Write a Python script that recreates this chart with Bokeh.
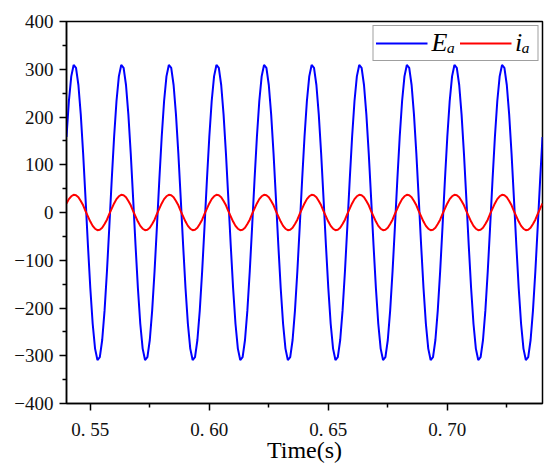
import numpy as np
from bokeh.plotting import figure
from bokeh.models import FixedTicker, Legend, LegendItem, Range1d
from bokeh.embed import file_html
from bokeh.resources import INLINE

# ---- data (1 ms sampling) ----
t_start = 0.540
t_step = 0.001

ea = [
    158, 233, 285, 309, 303, 267, 205, 123, 29, -68, -158, -233, -285, -309, -303, -267, -205, -123, -29, 68,
    158, 233, 285, 309, 303, 267, 205, 123, 29, -68, -158, -233, -285, -309, -303, -267, -205, -123, -29, 68,
    158, 233, 285, 309, 303, 267, 205, 123, 29, -68, -158, -233, -285, -309, -303, -267, -205, -123, -29, 68,
    158, 233, 285, 309, 303, 267, 205, 123, 29, -68, -158, -233, -285, -309, -303, -267, -205, -123, -29, 68,
    158, 233, 285, 309, 303, 267, 205, 123, 29, -68, -158, -233, -285, -309, -303, -267, -205, -123, -29, 68,
    158, 233, 285, 309, 303, 267, 205, 123, 29, -68, -158, -233, -285, -309, -303, -267, -205, -123, -29, 68,
    158, 233, 285, 309, 303, 267, 205, 123, 29, -68, -158, -233, -285, -309, -303, -267, -205, -123, -29, 68,
    158, 233, 285, 309, 303, 267, 205, 123, 29, -68, -158, -233, -285, -309, -303, -267, -205, -123, -29, 68,
    158, 233, 285, 309, 303, 267, 205, 123, 29, -68, -158, -233, -285, -309, -303, -267, -205, -123, -29, 68,
    158, 233, 285, 309, 303, 267, 205, 123, 29, -68, -158, -233, -285, -309, -303, -267, -205, -123, -29, 68,
    158,
]

ia = [
    19, 28, 34, 37, 36, 32, 24, 15, 3, -8, -19, -28, -34, -37, -36, -32, -24, -15, -3, 8,
    19, 28, 34, 37, 36, 32, 24, 15, 3, -8, -19, -28, -34, -37, -36, -32, -24, -15, -3, 8,
    19, 28, 34, 37, 36, 32, 24, 15, 3, -8, -19, -28, -34, -37, -36, -32, -24, -15, -3, 8,
    19, 28, 34, 37, 36, 32, 24, 15, 3, -8, -19, -28, -34, -37, -36, -32, -24, -15, -3, 8,
    19, 28, 34, 37, 36, 32, 24, 15, 3, -8, -19, -28, -34, -37, -36, -32, -24, -15, -3, 8,
    19, 28, 34, 37, 36, 32, 24, 15, 3, -8, -19, -28, -34, -37, -36, -32, -24, -15, -3, 8,
    19, 28, 34, 37, 36, 32, 24, 15, 3, -8, -19, -28, -34, -37, -36, -32, -24, -15, -3, 8,
    19, 28, 34, 37, 36, 32, 24, 15, 3, -8, -19, -28, -34, -37, -36, -32, -24, -15, -3, 8,
    19, 28, 34, 37, 36, 32, 24, 15, 3, -8, -19, -28, -34, -37, -36, -32, -24, -15, -3, 8,
    19, 28, 34, 37, 36, 32, 24, 15, 3, -8, -19, -28, -34, -37, -36, -32, -24, -15, -3, 8,
    19,
]

time = np.round(t_start + t_step * np.arange(len(ea)), 3)

x_tick_values = [0.55, 0.60, 0.65, 0.70]
x_tick_labels = ["0. 55", "0. 60", "0. 65", "0. 70"]
x_minor_values = [0.575, 0.625, 0.675, 0.725]

y_tick_values = [-400, -300, -200, -100, 0, 100, 200, 300, 400]
y_tick_labels = ["\u2212400", "\u2212300", "\u2212200", "\u2212100", "0", "100", "200", "300", "400"]
y_minor_values = [-350, -250, -150, -50, 50, 150, 250, 350]

series_labels = ["E\u2090", "i\u2090"]

SERIF = "Liberation Serif"

# ---- figure ----
p = figure(width=544, height=469, output_backend="svg", toolbar_location=None,
           x_range=Range1d(0.54, 0.74), y_range=Range1d(-400, 400),
           min_border_left=66, min_border_right=2, min_border_top=21, min_border_bottom=66)
p.background_fill_color = "white"
p.border_fill_color = "white"
p.grid.visible = False
p.outline_line_color = "black"
p.outline_line_width = 1.5

r1 = p.line(time, ea, line_color="#0000FF", line_width=2)
r2 = p.line(time, ia, line_color="#FF0000", line_width=2)

xa = p.xaxis[0]
xa.ticker = FixedTicker(ticks=x_tick_values, minor_ticks=x_minor_values)
xa.major_label_overrides = {v: l for v, l in zip(x_tick_values, x_tick_labels)}
xa.axis_label = "Time(s)"
xa.axis_label_text_font = SERIF
xa.axis_label_text_font_style = "normal"
xa.axis_label_text_font_size = "24px"
xa.axis_label_text_color = "black"
xa.axis_label_standoff = -6
xa.major_label_standoff = 8
xa.major_label_text_font = SERIF
xa.major_label_text_font_size = "19px"

ya = p.yaxis[0]
ya.ticker = FixedTicker(ticks=y_tick_values, minor_ticks=y_minor_values)
ya.major_label_overrides = {v: l for v, l in zip(y_tick_values, y_tick_labels)}
ya.major_label_standoff = 6
ya.major_label_text_font = SERIF
ya.major_label_text_font_size = "19px"

for ax in (xa, ya):
    ax.axis_line_width = 1.5
    ax.axis_line_color = "black"
    ax.major_tick_line_color = "black"
    ax.minor_tick_line_color = "black"
    ax.major_tick_line_width = 1.5
    ax.minor_tick_line_width = 1.5
    ax.major_tick_in = 0
    ax.major_tick_out = 7
    ax.minor_tick_in = 0
    ax.minor_tick_out = 4
    ax.major_label_text_color = "#111111"

legend = Legend(items=[LegendItem(label=series_labels[0], renderers=[r1]),
                       LegendItem(label=series_labels[1], renderers=[r2])],
                orientation="horizontal", location="top_right",
                glyph_width=52, glyph_height=22, label_standoff=4, spacing=4,
                padding=2, margin=4, border_line_color="#404040", border_line_width=1.2,
                label_text_font=SERIF, label_text_font_style="italic",
                label_text_font_size="26px", label_height=22, label_text_color="black")
p.add_layout(legend)

open("out.html", "w").write(file_html(p, INLINE))
